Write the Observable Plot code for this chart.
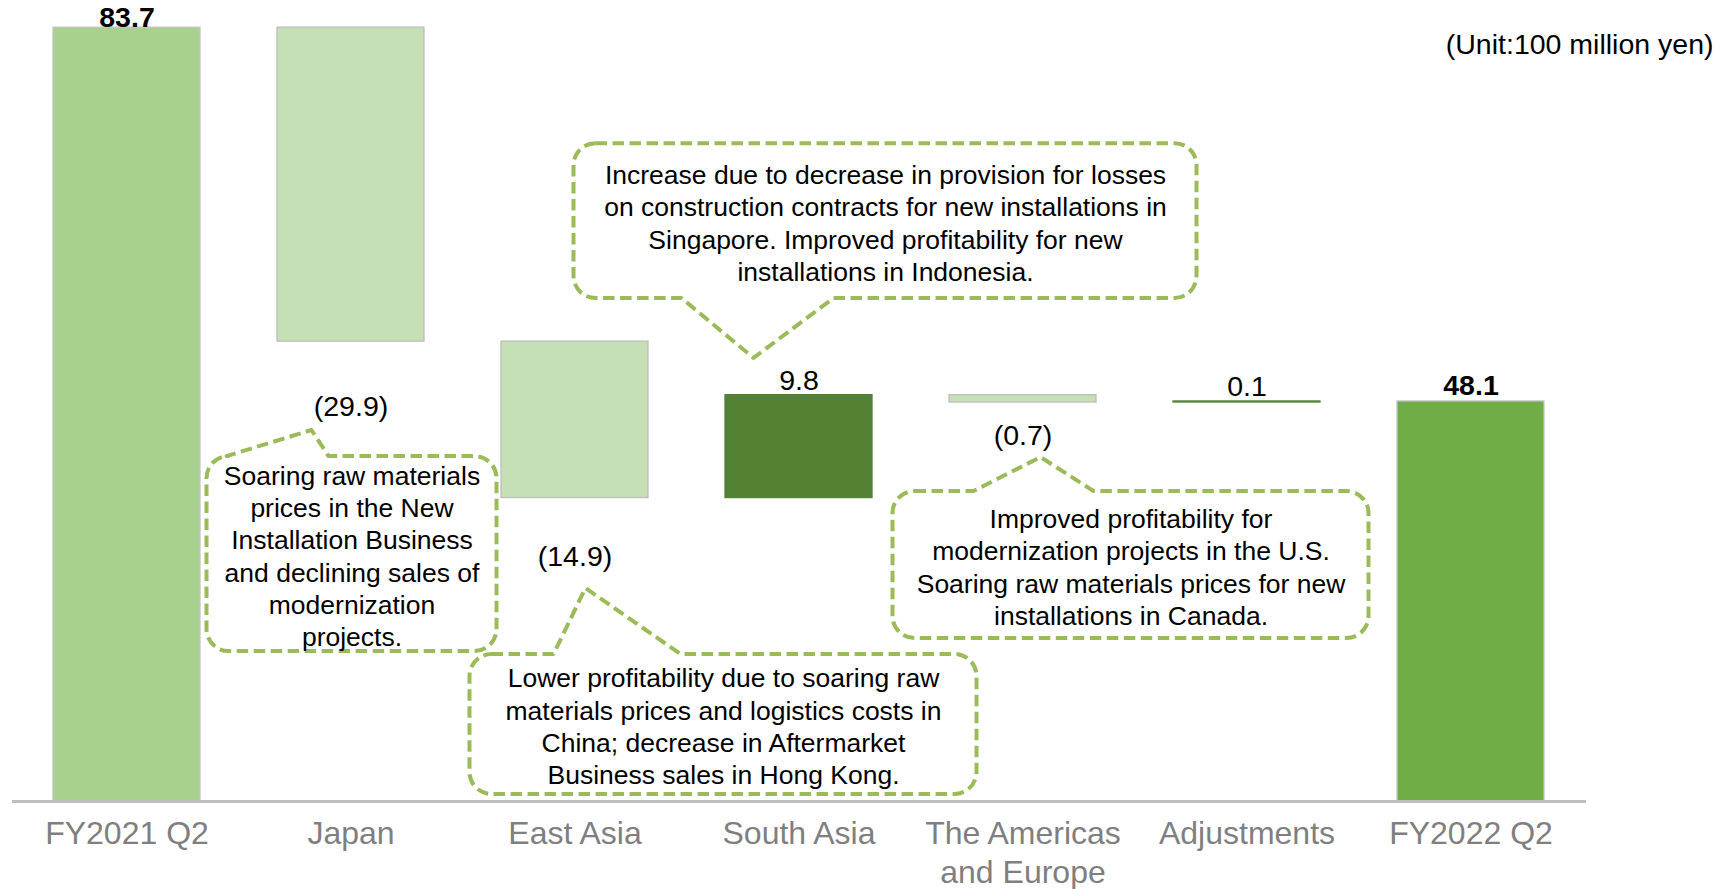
<!DOCTYPE html>
<html>
<head>
<meta charset="utf-8">
<script src="https://cdn.jsdelivr.net/npm/d3@7"></script>
<script src="https://cdn.jsdelivr.net/npm/@observablehq/plot@0.6"></script>
<style>
  html, body { margin: 0; padding: 0; background: #fff; }
  #chart svg { display: block; }
</style>
</head>
<body>
<div id="chart"></div>
<script>
// ---------- data ----------
const categories = ["FY2021 Q2", "Japan", "East Asia", "South Asia", "The Americas and Europe", "Adjustments", "FY2022 Q2"];
const tickLabels = ["FY2021 Q2", "Japan", "East Asia", "South Asia", "The Americas\nand Europe", "Adjustments", "FY2022 Q2"];
const values = [83.7, -29.9, -14.9, 9.8, -0.7, 0.1, 48.1];
const kinds = ["total", "delta", "delta", "delta", "delta", "delta", "total"];
const unitLabel = "(Unit:100 million yen)";

const calloutAnchors = ["South Asia", "Japan", "East Asia", "The Americas and Europe"];
const calloutTexts = [
  "Increase due to decrease in provision for losses\non construction contracts for new installations in\nSingapore. Improved profitability for new\ninstallations in Indonesia.",
  "Soaring raw materials\nprices in the New\nInstallation Business\nand declining sales of\nmodernization\nprojects.",
  "Lower profitability due to soaring raw\nmaterials prices and logistics costs in\nChina; decrease in Aftermarket\nBusiness sales in Hong Kong.",
  "Improved profitability for\nmodernization projects in the U.S.\nSoaring raw materials prices for new\ninstallations in Canada."
];

// ---------- layout / style (not data) ----------
const colors = { start: "#a9d18e", end: "#70ad47", down: "#c5e0b4", up: "#548235" };
const strokes = { start: "#c4c4c4", end: "#c4c4c4", down: "#bdbdbd", up: "#548235" };
const downLabelDy = { "Japan": 65, "East Asia": 59, "The Americas and Europe": 33 };
const totalLabelDy = { "FY2021 Q2": -1, "FY2022 Q2": -6 };
// callout geometry: x offsets (px) from anchor band centre, y in value units
const calloutLayout = [
  { box: [-225, 398], yTop: 72.65, yBot: 57.9, side: "bottom", base: [-117, 35], tip: [-45, 52.2] },
  { box: [-144, 146], yTop: 42.85, yBot: 24.28, side: "top", base: [-124, -22], tip: [-39, 45.33] },
  { box: [-105, 402], yTop: 24.0, yBot: 10.67, side: "top", base: [-21, 106], tip: [11, 30.28] },
  { box: [-130, 346], yTop: 39.52, yBot: 25.52, side: "top", base: [-49, 71], tip: [18, 42.76] }
];

// ---------- derived waterfall rows ----------
let run = 0;
const rows = categories.map((c, i) => {
  const v = values[i];
  let y1, y2, type;
  if (kinds[i] === "total") { y1 = 0; y2 = v; run = v; type = i === 0 ? "start" : "end"; }
  else { y1 = run; y2 = run + v; run += v; type = v < 0 ? "down" : "up"; }
  return { cat: c, value: v, y1, y2, type, top: Math.max(y1, y2), bottom: Math.min(y1, y2) };
});
const fmt = v => v < 0 ? `(${Math.abs(v).toFixed(1)})` : v.toFixed(1);

function calloutShape(anchor, L) {
  return (index, scales) => {
    const x = scales.x, y = scales.y;
    const cx = x(anchor) + x.bandwidth() / 2;
    const x0 = cx + L.box[0], x1 = cx + L.box[1];
    const y0 = y(L.yTop), y1 = y(L.yBot);
    const r = 22;
    const pa = cx + L.base[0], pb = cx + L.base[1];
    const tx = cx + L.tip[0], ty = y(L.tip[1]);
    let d = "";
    if (L.side === "top") {
      d = `M${x0 + r},${y0} L${pa},${y0} L${tx},${ty} L${pb},${y0} L${x1 - r},${y0}` +
          ` A${r},${r} 0 0 1 ${x1},${y0 + r} L${x1},${y1 - r}` +
          ` A${r},${r} 0 0 1 ${x1 - r},${y1} L${x0 + r},${y1}` +
          ` A${r},${r} 0 0 1 ${x0},${y1 - r} L${x0},${y0 + r}` +
          ` A${r},${r} 0 0 1 ${x0 + r},${y0} Z`;
    } else {
      d = `M${x0 + r},${y0} L${x1 - r},${y0}` +
          ` A${r},${r} 0 0 1 ${x1},${y0 + r} L${x1},${y1 - r}` +
          ` A${r},${r} 0 0 1 ${x1 - r},${y1} L${pb},${y1} L${tx},${ty} L${pa},${y1} L${x0 + r},${y1}` +
          ` A${r},${r} 0 0 1 ${x0},${y1 - r} L${x0},${y0 + r}` +
          ` A${r},${r} 0 0 1 ${x0 + r},${y0} Z`;
    }
    return d3.create("svg:path")
      .attr("d", d)
      .attr("fill", "white")
      .attr("stroke", "#9bbb59")
      .attr("stroke-width", 4)
      .attr("stroke-dasharray", "11.5 5.5")
      .attr("stroke-linejoin", "round")
      .node();
  };
}

const upTotal = rows.filter(d => d.type === "up");
const totals = rows.filter(d => d.type === "start" || d.type === "end");
const downs = rows.filter(d => d.type === "down");

const chart = Plot.plot({
  width: 1730,
  height: 889,
  marginLeft: 12,
  marginRight: 144,
  marginTop: 3,
  marginBottom: 88,
  style: { fontFamily: "'Liberation Sans', Arial, sans-serif", fontSize: "28.5px", color: "black", background: "white" },
  x: { domain: categories, paddingInner: 0.342, paddingOuter: 0.171 },
  y: { domain: [10, 86], axis: null },
  color: { type: "identity" },
  marks: [
    Plot.barY(rows, {
      x: "cat", y1: "y1", y2: "y2",
      fill: d => colors[d.type], stroke: d => strokes[d.type], strokeWidth: 1.3,
      clip: true
    }),
    Plot.ruleY([10], { stroke: "#bfbfbf", strokeWidth: 3 }),
    Plot.axisX({
      tickSize: 0, tickPadding: 15, fontSize: 32, color: "#7f7f7f", label: null,
      lineHeight: 1.21,
      tickFormat: d => tickLabels[categories.indexOf(d)]
    }),
    Plot.text(upTotal, { x: "cat", y: "top", text: d => fmt(d.value), lineAnchor: "bottom", dy: -5, fontSize: 28.5, fill: "black" }),
    ...totals.map(d => Plot.text([d], { x: "cat", y: "top", text: r => fmt(r.value), lineAnchor: "bottom", dy: totalLabelDy[d.cat], fontSize: 28.5, fontWeight: "bold", fill: "black" })),
    ...downs.map(d => Plot.text([d], { x: "cat", y: "bottom", text: r => fmt(r.value), lineAnchor: "middle", dy: downLabelDy[d.cat], fontSize: 28.5, fill: "black" })),
    ...calloutAnchors.map((a, i) => calloutShape(a, calloutLayout[i])),
    ...calloutAnchors.map((a, i) => {
      const L = calloutLayout[i];
      return Plot.text([calloutTexts[i]], {
        x: () => a, y: () => (L.yTop + L.yBot) / 2,
        dx: (L.box[0] + L.box[1]) / 2, dy: 1,
        text: d => d, lineAnchor: "middle", lineHeight: 1.22,
        fontSize: 26.5, fill: "black", textAnchor: "middle"
      });
    }),
    Plot.text([unitLabel], { frameAnchor: "top-right", dx: 127, dy: 41, lineAnchor: "middle", textAnchor: "end", fontSize: 28.5, fill: "black" })
  ]
});
document.getElementById("chart").appendChild(chart);
</script>
</body>
</html>
